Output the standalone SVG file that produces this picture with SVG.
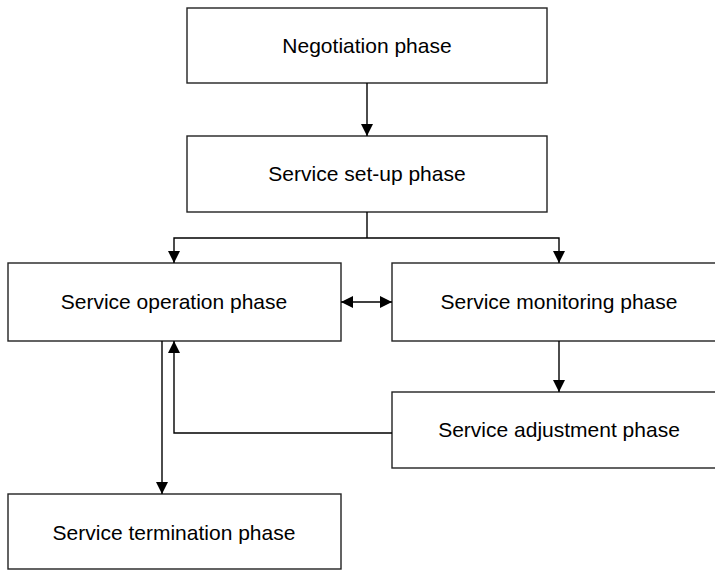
<svg xmlns="http://www.w3.org/2000/svg" width="715" height="571" viewBox="0 0 715 571">
<defs>
<marker id="ah" viewBox="0 0 10 10" refX="10" refY="5" markerWidth="12" markerHeight="12" markerUnits="userSpaceOnUse" orient="auto-start-reverse">
<path d="M0,0 L10,5 L0,10 z" fill="#000"/>
</marker>
<style>
.box{fill:#fff;stroke:#222;stroke-width:1.4}
.lbl{font-family:"Liberation Sans",Arial,sans-serif;font-size:21px;fill:#000;text-anchor:middle}
.con{fill:none;stroke:#000;stroke-width:1.4}
</style>
</defs>
<rect width="715" height="571" fill="#fff"/>
<g id="negotiation"><rect class="box" x="187" y="8" width="360" height="75"/><text class="lbl" x="367" y="53">Negotiation phase</text></g>
<g id="setup"><rect class="box" x="187" y="136" width="360" height="76"/><text class="lbl" x="367" y="181">Service set-up phase</text></g>
<g id="operation"><rect class="box" x="8" y="263" width="333" height="78"/><text class="lbl" x="174" y="309">Service operation phase</text></g>
<g id="monitoring"><rect class="box" x="392" y="263" width="340" height="78"/><text class="lbl" x="559" y="309">Service monitoring phase</text></g>
<g id="adjustment"><rect class="box" x="392" y="392" width="340" height="76"/><text class="lbl" x="559" y="437">Service adjustment phase</text></g>
<g id="termination"><rect class="box" x="8" y="494" width="333" height="75"/><text class="lbl" x="174" y="540">Service termination phase</text></g>
<g id="connectors">
<path class="con" d="M367,83 V136" marker-end="url(#ah)"/>
<path class="con" d="M367,212 V238"/>
<path class="con" d="M367,238 H174 V263" marker-end="url(#ah)"/>
<path class="con" d="M367,238 H559 V263" marker-end="url(#ah)"/>
<path class="con" d="M341,302 H392" marker-start="url(#ah)" marker-end="url(#ah)"/>
<path class="con" d="M559,341 V392" marker-end="url(#ah)"/>
<path class="con" d="M392,433 H174 V341" marker-end="url(#ah)"/>
<path class="con" d="M162,341 V494" marker-end="url(#ah)"/>
</g>
</svg>
